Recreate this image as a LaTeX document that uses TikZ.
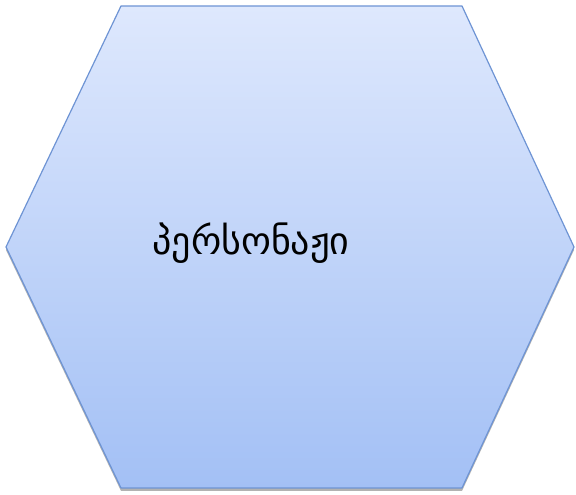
\documentclass[tikz,border=0pt]{standalone}
\usepackage{fontspec}
\newfontfamily\geofont[Script=Georgian]{DejaVu Sans}
\begin{document}
\begin{tikzpicture}[x=1pt,y=1pt,
  hexfill/.style={top color=hextop, bottom color=hexbot, draw=hexborder, line width=1.2pt, line join=round},
  hexshadow/.style={fill=black!30, draw=none},
  label/.style={font=\geofont\fontsize{38}{42}\selectfont, text=black}]
\definecolor{hextop}{HTML}{DEE8FD}
\definecolor{hexbot}{HTML}{A3C0F5}
\definecolor{hexborder}{HTML}{6E94D4}
\useasboundingbox (0,0) rectangle (576,495);
\coordinate (tl) at (121,489);
\coordinate (tr) at (462,489);
\coordinate (r) at (574,248);
\coordinate (br) at (462,7);
\coordinate (bl) at (121,7);
\coordinate (l) at (6,248);
\fill[hexshadow] ([yshift=-3]tl) -- ([yshift=-3]tr) -- ([yshift=-3]r) -- ([yshift=-3]br) -- ([yshift=-3]bl) -- ([yshift=-3]l) -- cycle;
\path[hexfill] (tl) -- (tr) -- (r) -- (br) -- (bl) -- (l) -- cycle;
\node[label] (txt) at (251,252) {პერსონაჟი};
\end{tikzpicture}
\end{document}
